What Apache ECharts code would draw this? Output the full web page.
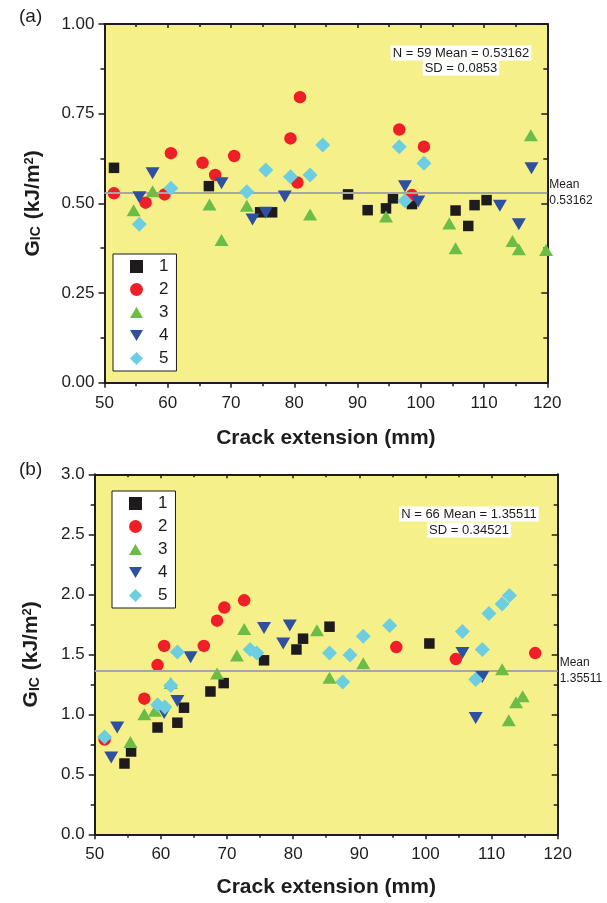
<!DOCTYPE html>
<html>
<head>
<meta charset="utf-8">
<script src="https://cdn.jsdelivr.net/npm/echarts@6/dist/echarts.min.js"></script>
<style>
  html, body { margin: 0; padding: 0; background: #ffffff; }
  #chart { width: 607px; height: 903px; }
</style>
</head>
<body>
<div id="chart"></div>
<script>
// ---- data: G_IC (kJ/m^2) against crack extension (mm), specimens 1-5 ----
const seriesNames = ['1', '2', '3', '4', '5'];

// panel (a)
const aSpec1 = [[51.5,0.599],[66.5,0.548],[74.6,0.475],[76.5,0.475],[88.5,0.525],[91.6,0.481],[94.5,0.486],[95.6,0.514],[98.6,0.498],[105.5,0.480],[107.5,0.437],[108.5,0.495],[110.4,0.509]];
const aSpec2 = [[51.5,0.528],[56.5,0.502],[59.5,0.525],[60.5,0.640],[65.5,0.613],[67.5,0.579],[70.5,0.632],[79.4,0.681],[80.5,0.558],[80.9,0.796],[96.6,0.706],[98.6,0.523],[100.5,0.658]];
const aSpec3 = [[54.6,0.481],[57.6,0.534],[66.6,0.497],[68.5,0.398],[72.5,0.493],[82.5,0.469],[94.5,0.463],[104.5,0.444],[105.5,0.375],[114.5,0.395],[115.5,0.372],[117.4,0.690],[119.8,0.370]];
const aSpec4 = [[55.5,0.517],[57.6,0.584],[68.5,0.556],[73.4,0.455],[75.5,0.474],[78.5,0.519],[97.5,0.548],[99.6,0.505],[112.5,0.493],[115.5,0.442],[117.5,0.598]];
const aSpec5 = [[55.5,0.442],[60.5,0.542],[72.5,0.532],[75.5,0.593],[79.4,0.574],[82.5,0.579],[84.5,0.663],[96.6,0.658],[97.5,0.507],[100.5,0.612]];
const aN = 59, aMean = 0.53162, aSD = 0.0853;

// panel (b)
const bSpec1 = [[54.5,0.59],[55.5,0.69],[59.5,0.89],[62.5,0.93],[63.5,1.055],[67.5,1.19],[69.5,1.26],[75.6,1.45],[80.5,1.54],[81.5,1.63],[85.5,1.73],[100.6,1.59]];
const bSpec2 = [[51.5,0.79],[57.5,1.13],[59.5,1.41],[60.5,1.57],[66.5,1.57],[68.5,1.78],[69.6,1.89],[72.6,1.95],[95.6,1.56],[104.6,1.46],[116.6,1.51]];
const bSpec3 = [[55.4,0.77],[57.5,1.00],[59.1,1.03],[61.5,1.26],[68.5,1.34],[71.5,1.49],[72.6,1.71],[83.6,1.70],[85.5,1.305],[90.6,1.425],[111.6,1.375],[112.6,0.95],[113.7,1.10],[114.7,1.15]];
const bSpec4 = [[52.5,0.64],[53.4,0.89],[60.5,1.01],[62.5,1.11],[64.5,1.475],[75.6,1.72],[78.5,1.59],[79.5,1.74],[105.6,1.51],[107.6,0.97],[108.6,1.31]];
const bSpec5 = [[51.5,0.81],[59.5,1.08],[60.6,1.06],[61.5,1.24],[62.5,1.52],[73.5,1.54],[74.5,1.51],[85.5,1.51],[87.5,1.27],[88.6,1.494],[90.6,1.65],[94.6,1.74],[105.6,1.69],[107.6,1.29],[108.6,1.54],[109.6,1.84],[111.6,1.92],[112.7,1.99]];
const bN = 66, bMean = 1.35511, bSD = 0.34521;

// tick labels
const xTicks = [50, 60, 70, 80, 90, 100, 110, 120];
const aYTicks = [0, 0.25, 0.5, 0.75, 1.0];
const bYTicks = [0, 0.5, 1.0, 1.5, 2.0, 2.5, 3.0];

// ---- styling ----
const FONT = "'Liberation Sans', Arial, Helvetica, sans-serif";
const INK = '#1e1c1d';
const PLOT_BG = '#f6f08b';
const markerStyle = [
  { symbol: 'rect', symbolSize: 10.5, symbolRotate: 0, color: '#1d1b1c', icon: 'rect' },
  { symbol: 'circle', symbolSize: 12.5, symbolRotate: 0, color: '#ee1f26', icon: 'circle' },
  { symbol: 'triangle', symbolSize: [14, 12], symbolRotate: 0, color: '#6bbd46', icon: 'path://M7,0L14,12L0,12Z' },
  { symbol: 'triangle', symbolSize: [14, 12], symbolRotate: 180, color: '#2f4f9f', icon: 'path://M0,0L14,0L7,12Z' },
  { symbol: 'diamond', symbolSize: [15, 15], symbolRotate: 0, color: '#6ccee0', icon: 'path://M7,0L14,7L7,14L0,7Z' }
];

const gridA = { left: 104.5, top: 24, width: 442.8, height: 358.7 };
const gridB = { left: 94.7, top: 474.3, width: 463, height: 360 };

function range(ticks) {
  return { min: ticks[0], max: ticks[ticks.length - 1], interval: ticks[1] - ticks[0] };
}

const gName = '{b|G}{s|IC}{b| (kJ/m}{p|2}{b|)}';
const gRich = {
  b: { fontSize: 21, fontWeight: 'bold', fontFamily: FONT, color: INK },
  s: { fontSize: 14, fontWeight: 'bold', fontFamily: FONT, color: INK, verticalAlign: 'bottom', padding: [0, 1, 0, 0] },
  p: { fontSize: 13, fontWeight: 'bold', fontFamily: FONT, color: INK, verticalAlign: 'top' }
};

function xAxisPair(gridIndex, nameGap) {
  const r = range(xTicks);
  const common = {
    type: 'value', gridIndex: gridIndex, min: r.min, max: r.max, interval: r.interval,
    splitLine: { show: false }, minorSplitLine: { show: false },
    axisLine: { show: true, onZero: false, lineStyle: { color: INK, width: 2 } }
  };
  return [
    Object.assign({}, common, {
      position: 'bottom',
      name: 'Crack extension (mm)', nameLocation: 'middle', nameGap: nameGap, nameMoveOverlap: false,
      nameTextStyle: { fontSize: 21, fontWeight: 'bold', color: INK, fontFamily: FONT },
      axisTick: { show: true, inside: false, length: 5, lineStyle: { color: INK, width: 1.5 } },
      minorTick: { show: true, splitNumber: 2, length: 3.5, lineStyle: { color: INK, width: 1.5 } },
      axisLabel: { show: true, margin: 12, fontSize: 17, color: INK, fontFamily: FONT }
    }),
    Object.assign({}, common, {
      position: 'top',
      axisTick: { show: true, inside: true, length: 4, lineStyle: { color: INK, width: 1.5 } },
      minorTick: { show: true, splitNumber: 2, length: 3, lineStyle: { color: INK, width: 1.5 } },
      axisLabel: { show: false }
    })
  ];
}

function yAxisPair(gridIndex, ticks, decimals, nameGap) {
  const r = range(ticks);
  const common = {
    type: 'value', gridIndex: gridIndex, min: r.min, max: r.max, interval: r.interval,
    splitLine: { show: false }, minorSplitLine: { show: false },
    axisLine: { show: true, onZero: false, lineStyle: { color: INK, width: 2 } }
  };
  return [
    Object.assign({}, common, {
      position: 'left',
      name: gName, nameLocation: 'middle', nameGap: nameGap, nameRotate: 90, nameMoveOverlap: false,
      nameTextStyle: { rich: gRich },
      axisTick: { show: true, inside: false, length: 6, lineStyle: { color: INK, width: 1.5 } },
      minorTick: { show: true, splitNumber: 2, length: 4, lineStyle: { color: INK, width: 1.5 } },
      axisLabel: { show: true, margin: 10, fontSize: 17, color: INK, fontFamily: FONT,
        formatter: function (v) { return v.toFixed(decimals); } }
    }),
    Object.assign({}, common, {
      position: 'right',
      axisTick: { show: true, inside: true, length: 6, lineStyle: { color: INK, width: 1.5 } },
      minorTick: { show: true, splitNumber: 2, length: 4, lineStyle: { color: INK, width: 1.5 } },
      axisLabel: { show: false }
    })
  ];
}

function panelSeries(specs, xIdx, yIdx) {
  return specs.map(function (data, i) {
    const m = markerStyle[i];
    return {
      type: 'scatter', name: seriesNames[i], xAxisIndex: xIdx, yAxisIndex: yIdx,
      data: data, symbol: m.symbol, symbolSize: m.symbolSize, symbolRotate: m.symbolRotate,
      itemStyle: { color: m.color, opacity: 1 }, z: 3 + i, animation: false,
      emphasis: { disabled: true }
    };
  });
}

function meanSeries(mean, xIdx, yIdx) {
  return {
    type: 'scatter', name: 'mean', xAxisIndex: xIdx, yAxisIndex: yIdx, data: [], z: 2,
    silent: true, animation: false,
    markLine: {
      silent: true, animation: false, symbol: ['none', 'none'],
      lineStyle: { color: '#a6a6a4', width: 2, type: 'solid' },
      label: { show: true, position: 'end', distance: 2, formatter: 'Mean\n' + mean.toFixed(5),
        color: INK, fontSize: 12, lineHeight: 16, fontFamily: FONT },
      emphasis: { disabled: true },
      data: [{ yAxis: mean }]
    }
  };
}

function legendFor(left, top) {
  return {
    show: true, orient: 'vertical', left: left, top: top,
    data: seriesNames.map(function (n, i) {
      return { name: n, icon: markerStyle[i].icon, itemStyle: { color: markerStyle[i].color } };
    }),
    itemWidth: 13, itemHeight: 13, itemGap: 6, padding: [4, 8, 4, 17],
    backgroundColor: '#ffffff', borderColor: INK, borderWidth: 1, borderRadius: 0,
    selectedMode: false,
    textStyle: { fontSize: 17, color: INK, fontFamily: FONT, lineHeight: 17, padding: [0, 0, 0, 11] }
  };
}

function statText(x, y, text) {
  return {
    type: 'text', x: x, y: y, z: 50, silent: true,
    style: { text: text, align: 'center', verticalAlign: 'middle', fontSize: 13, fontFamily: FONT,
      fill: INK, backgroundColor: '#ffffff', padding: [1, 2, 1, 2] }
  };
}

const xa = xAxisPair(0, 45);
const xb = xAxisPair(1, 42);
const ya = yAxisPair(0, aYTicks, 2, 61);
const yb = yAxisPair(1, bYTicks, 1, 53);

const option = {
  backgroundColor: '#ffffff',
  animation: false,
  textStyle: { fontFamily: FONT },
  grid: [
    Object.assign({ show: true, backgroundColor: PLOT_BG, borderWidth: 0, containLabel: false, outerBoundsMode: 'none' }, gridA),
    Object.assign({ show: true, backgroundColor: PLOT_BG, borderWidth: 0, containLabel: false, outerBoundsMode: 'none' }, gridB)
  ],
  xAxis: [xa[0], xa[1], xb[0], xb[1]],
  yAxis: [ya[0], ya[1], yb[0], yb[1]],
  legend: [legendFor(113, 254), legendFor(112, 491)],
  series: [].concat(
    [meanSeries(aMean, 0, 0)],
    panelSeries([aSpec1, aSpec2, aSpec3, aSpec4, aSpec5], 0, 0),
    [meanSeries(bMean, 2, 2)],
    panelSeries([bSpec1, bSpec2, bSpec3, bSpec4, bSpec5], 2, 2)
  ),
  graphic: [
    { type: 'text', x: 19, y: 17, silent: true,
      style: { text: '(a)', fontSize: 19, fontFamily: FONT, fill: INK, align: 'left', verticalAlign: 'middle' } },
    { type: 'text', x: 19, y: 470, silent: true,
      style: { text: '(b)', fontSize: 19, fontFamily: FONT, fill: INK, align: 'left', verticalAlign: 'middle' } },
    statText(461, 53, 'N = ' + aN + ' Mean = ' + aMean.toFixed(5)),
    statText(461, 68, 'SD = ' + aSD),
    statText(469, 514, 'N = ' + bN + ' Mean = ' + bMean.toFixed(5)),
    statText(469, 530, 'SD = ' + bSD)
  ]
};

const chart = echarts.init(document.getElementById('chart'), null, { renderer: 'canvas' });
chart.setOption(option);
</script>
</body>
</html>
